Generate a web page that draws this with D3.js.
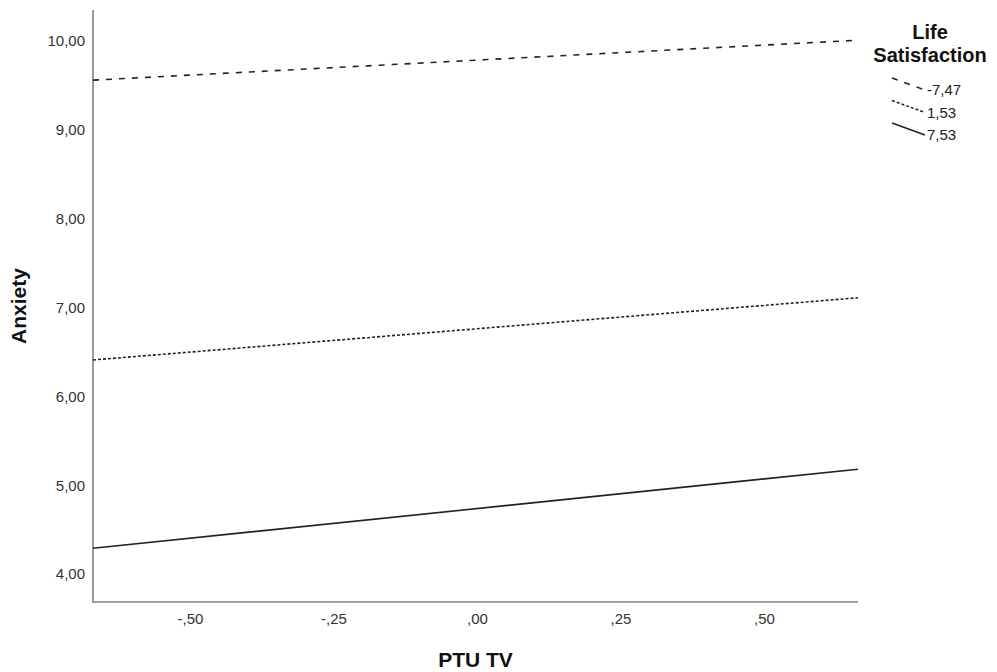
<!DOCTYPE html>
<html>
<head>
<meta charset="utf-8">
<script src="https://cdn.jsdelivr.net/npm/d3@7"></script>
<style>
  html, body { margin: 0; padding: 0; background: #fff; }
  svg { display: block; font-family: "Liberation Sans", Arial, sans-serif; }
</style>
</head>
<body>
<svg id="chart" width="997" height="672"></svg>
<script>
// ---- data ----
const xValues = [-0.669, 0.664];
const seriesNames = ["-7,47", "1,53", "7,53"];
const seriesLow = [9.56, 6.41, 4.29];
const seriesHigh = [10.01, 7.11, 5.18];
const yTicks = [4, 5, 6, 7, 8, 9, 10];
const yTickLabels = ["4,00", "5,00", "6,00", "7,00", "8,00", "9,00", "10,00"];
const xTicks = [-0.5, -0.25, 0, 0.25, 0.5];
const xTickLabels = ["-,50", "-,25", ",00", ",25", ",50"];
const legendTitle = ["Life", "Satisfaction"];
const xTitle = "PTU TV";
const yTitle = "Anxiety";

// ---- layout ----
const svg = d3.select("#chart");
const mLeft = 93, mRight = 858, mTop = 10, mBottom = 602;
const x = d3.scaleLinear().domain([-0.669, 0.664]).range([mLeft, mRight]);
const y = d3.scaleLinear().domain([3.685, 10.35]).range([mBottom, mTop]);
const dashes = ["6,7", "3,2", null];
const FONT = "Liberation Sans, Arial, sans-serif";

// axes frame lines
svg.append("line").attr("x1", mLeft).attr("x2", mLeft).attr("y1", mTop).attr("y2", mBottom)
  .attr("stroke", "#808080").attr("stroke-width", 1.6);
svg.append("line").attr("x1", mLeft - 0.8).attr("x2", mRight).attr("y1", mBottom).attr("y2", mBottom)
  .attr("stroke", "#808080").attr("stroke-width", 1.6);

// y tick labels
const yAxis = d3.axisLeft(y).tickValues(yTicks).tickSize(0).tickPadding(8)
  .tickFormat((d, i) => yTickLabels[i]);
const gy = svg.append("g").attr("transform", `translate(${mLeft},0)`).call(yAxis);
gy.select(".domain").remove();
gy.selectAll("text").attr("font-size", 15).attr("fill", "#333").attr("font-family", FONT);

// x tick labels
const xAxis = d3.axisBottom(x).tickValues(xTicks).tickSize(0).tickPadding(11)
  .tickFormat((d, i) => xTickLabels[i]);
const gx = svg.append("g").attr("transform", `translate(0,${mBottom})`).call(xAxis);
gx.select(".domain").remove();
gx.selectAll("text").attr("font-size", 15).attr("fill", "#333").attr("font-family", FONT);

// series lines
const line = d3.line().x(d => x(d[0])).y(d => y(d[1]));
seriesNames.forEach((name, i) => {
  const pts = [[xValues[0], seriesLow[i]], [xValues[1], seriesHigh[i]]];
  svg.append("path").datum(pts).attr("d", line)
    .attr("fill", "none").attr("stroke", "#222").attr("stroke-width", 1.6)
    .attr("stroke-dasharray", dashes[i]);
});

// axis titles
svg.append("text").attr("x", (mLeft + mRight) / 2).attr("y", 667)
  .attr("text-anchor", "middle").attr("font-size", 21).attr("font-weight", "bold")
  .attr("fill", "#111").text(xTitle);
svg.append("text").attr("transform", `translate(26,${(mTop + mBottom) / 2}) rotate(-90)`)
  .attr("text-anchor", "middle").attr("font-size", 21).attr("font-weight", "bold")
  .attr("fill", "#111").text(yTitle);

// legend
const lg = svg.append("g");
legendTitle.forEach((t, i) => {
  lg.append("text").attr("x", 930).attr("y", 39 + i * 23).attr("text-anchor", "middle")
    .attr("font-size", 20).attr("font-weight", "bold").attr("fill", "#111").text(t);
});
seriesNames.forEach((name, i) => {
  const yc = 84 + i * 22.5;
  lg.append("line").attr("x1", 892).attr("y1", yc - 6).attr("x2", 925).attr("y2", yc + 6)
    .attr("stroke", "#222").attr("stroke-width", 1.5).attr("stroke-dasharray", dashes[i]);
  lg.append("text").attr("x", 927).attr("y", yc + 11).attr("font-size", 15)
    .attr("fill", "#222").attr("font-family", FONT).text(name);
});
</script>
</body>
</html>
